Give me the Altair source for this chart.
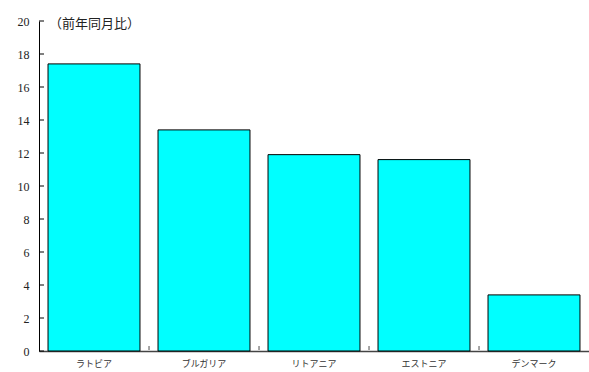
import altair as alt
import pandas as pd

countries = ["ラトビア", "ブルガリア", "リトアニア", "エストニア", "デンマーク"]
values = [17.4, 13.4, 11.9, 11.6, 3.4]
y_ticks = [0, 2, 4, 6, 8, 10, 12, 14, 16, 18, 20]
note = "（前年同月比）"

df = pd.DataFrame({"country": countries, "value": values})
ticks_df = pd.DataFrame({"t": y_ticks})

xscale = alt.Scale(domain=countries, paddingInner=0.164, paddingOuter=0.082)
yscale = alt.Scale(domain=[0, 20], nice=False)

xaxis = alt.Axis(labelAngle=0, labelFont="Noto Sans CJK JP", labelFontSize=9,
                 labelColor="#333333", ticks=False, domainColor="#444444",
                 domainWidth=1.5, labelPadding=8, grid=False)
yaxis = alt.Axis(values=y_ticks, ticks=False, grid=False, labelFont="Liberation Serif",
                 labelFontSize=12, labelColor="#222222", domainColor="#000000",
                 labelPadding=10, labelOverlap=False)

bars = alt.Chart(df).mark_bar(fill="#00FFFF", stroke="#000000", strokeWidth=1).encode(
    x=alt.X("country:N", scale=xscale, sort=countries, title=None, axis=xaxis),
    y=alt.Y("value:Q", scale=yscale, title=None, axis=yaxis),
)

yticks = alt.Chart(ticks_df).mark_rule(color="#000000", strokeWidth=1).encode(
    y=alt.Y("t:Q", scale=yscale, title=None, axis=yaxis),
    x=alt.value(0),
    x2=alt.value(5),
)

xticks = alt.Chart(df).transform_filter(
    alt.datum.country != countries[0]
).mark_tick(color="#000000", thickness=1, size=4, orient="vertical").encode(
    x=alt.X("country:N", scale=xscale, sort=countries, bandPosition=0, title=None, axis=xaxis),
    xOffset=alt.value(-9),
    y=alt.value(327),
)

label = alt.Chart(pd.DataFrame({"note": [note]})).mark_text(
    align="left", baseline="middle", font="Noto Sans CJK JP", fontSize=13, color="#222222"
).encode(
    x=alt.value(10),
    y=alt.value(3),
    text="note:N",
)

chart = alt.layer(bars, yticks, xticks, label).properties(
    width=550,
    height=330,
    background="white",
    autosize=alt.AutoSizeParams(type="none"),
    padding={"left": 39, "top": 21, "right": 0, "bottom": 21},
).configure_view(stroke=None)

chart.save("out.html", embed_options={"renderer": "svg", "actions": False})
